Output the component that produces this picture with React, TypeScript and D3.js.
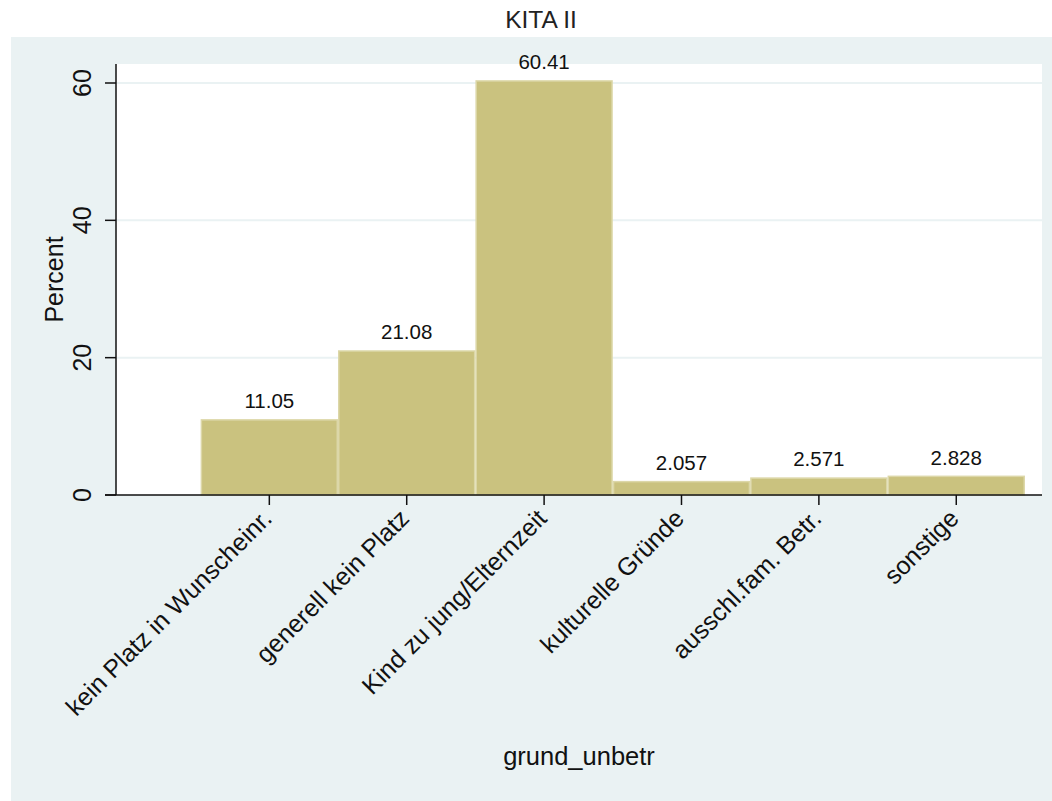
import React from "react";
import * as d3 from "d3";

const categories = [
  "kein Platz in Wunscheinr.",
  "generell kein Platz",
  "Kind zu jung/Elternzeit",
  "kulturelle Gründe",
  "ausschl.fam. Betr.",
  "sonstige",
];
const percents = [11.05, 21.08, 60.41, 2.057, 2.571, 2.828];
const valueLabels = ["11.05", "21.08", "60.41", "2.057", "2.571", "2.828"];
const yTicks = [0, 20, 40, 60];
const gridTicks = [20, 40, 60];

const W = 1052;
const H = 801;
const FONT = "'Liberation Sans', Arial, Helvetica, sans-serif";
const BG = "#EAF2F3";

export default function App() {
  const plotL = 116;
  const plotR = 1042;
  const plotT = 64;
  const plotB = 495;

  const y = d3.scaleLinear().domain([0, 60]).range([plotB, 83]);
  const x = d3.scaleLinear().domain([-0.616, 6.124]).range([plotL, plotR]);

  return (
    <svg
      width={W}
      height={H}
      style={{ position: "absolute", left: 0, top: 0 }}
      fontFamily={FONT}
    >
      <rect x={0} y={0} width={W} height={H} fill="#ffffff" />
      <rect x={11} y={37} width={W - 11} height={H - 37} fill={BG} />
      <rect x={plotL} y={plotT} width={plotR - plotL} height={plotB - plotT} fill="#ffffff" />

      {/* title */}
      <text x={541} y={28} textAnchor="middle" fontSize={24.5} fill="#222">
        KITA II
      </text>

      {/* gridlines */}
      {gridTicks.map((t) => (
        <line key={t} x1={plotL} x2={plotR} y1={y(t)} y2={y(t)} stroke={BG} strokeWidth={2} />
      ))}

      {/* bars */}
      {percents.map((v, i) => (
        <g key={i}>
          <rect
            x={x(i) + 0.75}
            y={y(v) + 0.75}
            width={x(i + 1) - x(i) - 1.5}
            height={y(0) - y(v) - 0.75}
            fill="#CAC27F"
            stroke="#DCD7A8"
            strokeWidth={1.5}
          />
          <text
            x={(x(i) + x(i + 1)) / 2}
            y={y(v) - 11}
            textAnchor="middle"
            fontSize={20.5}
            fill="#111"
          >
            {valueLabels[i]}
          </text>
        </g>
      ))}

      {/* y axis */}
      <line x1={plotL} x2={plotL} y1={plotT} y2={plotB} stroke="#111" strokeWidth={1.5} />
      {yTicks.map((t) => (
        <g key={t}>
          <line x1={105} x2={plotL} y1={y(t)} y2={y(t)} stroke="#111" strokeWidth={1.5} />
          <text
            transform={`translate(91,${y(t)}) rotate(-90)`}
            textAnchor="middle"
            fontSize={25}
            fill="#111"
          >
            {t}
          </text>
        </g>
      ))}
      <text
        transform={`translate(63,${(plotT + plotB) / 2}) rotate(-90)`}
        textAnchor="middle"
        fontSize={25}
        fill="#111"
      >
        Percent
      </text>

      {/* x axis */}
      <line x1={105} x2={plotR} y1={plotB} y2={plotB} stroke="#111" strokeWidth={1.5} />
      {categories.map((c, i) => {
        const cx = x(i + 0.5);
        return (
          <g key={c}>
            <line x1={cx} x2={cx} y1={plotB} y2={plotB + 10} stroke="#111" strokeWidth={1.5} />
            <text
              transform={`translate(${cx + 4},${plotB + 25}) rotate(-45)`}
              textAnchor="end"
              fontSize={25}
              fill="#111"
            >
              {c}
            </text>
          </g>
        );
      })}
      <text x={(plotL + plotR) / 2} y={765} textAnchor="middle" fontSize={25.5} fill="#111">
        grund_unbetr
      </text>
    </svg>
  );
}
